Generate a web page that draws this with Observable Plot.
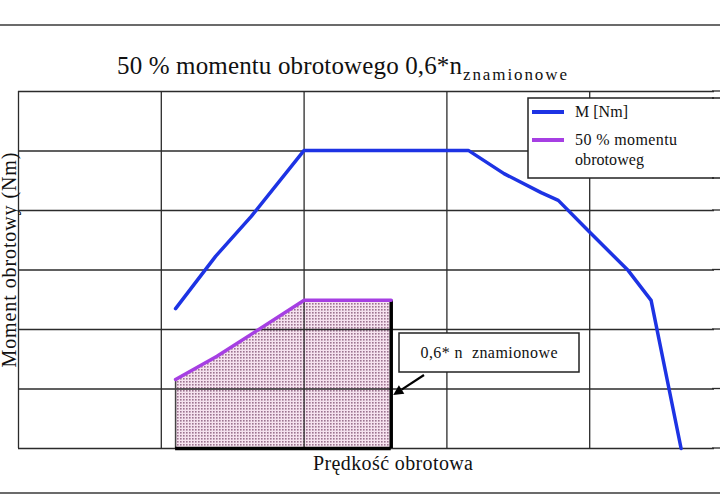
<!DOCTYPE html>
<html><head><meta charset="utf-8">
<script src="https://cdn.jsdelivr.net/npm/d3@7"></script>
<script src="https://cdn.jsdelivr.net/npm/@observablehq/plot@0.6"></script>
<style>
html,body{margin:0;background:#fff;overflow:hidden}
#chart{position:relative;width:720px;height:500px;overflow:hidden}
#chart svg{display:block;max-width:none !important}
</style>
</head><body><div id="chart"></div>
<script>
// Full torque curve M [Nm] vs rotational speed (grid units)
const speedM  = [1.10, 1.38, 1.63, 2.00, 3.15, 3.40, 3.66, 3.78, 3.99, 4.27, 4.43, 4.64];
const torqueM = [2.35, 3.23, 3.90, 5.01, 5.01, 4.62, 4.30, 4.17, 3.66, 2.99, 2.49, 0.00];
// 50 % torque curve up to 0.6 * n rated
const speedHalf  = [1.10, 1.39, 2.00, 2.61];
const torqueHalf = [1.16, 1.55, 2.49, 2.49];
const nRated = 2.61;
const gridX = [0, 1, 2, 3, 4];
const gridY = [0, 1, 2, 3, 4, 5, 6];
const seriesNames = ["M [Nm]", "50 % momentu", "obrotoweg"];
const titleMain = "50 % momentu obrotowego 0,6*n";
const titleSub = "znamionowe";
const xLabel = "Prędkość obrotowa";
const yLabel = "Moment obrotowy (Nm)";
const noteLabel = "0,6* n  znamionowe";

const mData = speedM.map((s, i) => ({speed: s, torque: torqueM[i]}));
const halfData = speedHalf.map((s, i) => ({speed: s, torque: torqueHalf[i]}));
const rated = [{speed: nRated, torque: torqueHalf[torqueHalf.length - 1]}];

const BLUE = "#1d33e4", PURPLE = "#a63fe3", GRID = "#2b2b2b";
const FONT = "'Liberation Serif','DejaVu Serif',serif";

const plot = Plot.plot({
  width: 720, height: 500,
  marginTop: 91, marginBottom: 52, marginLeft: 18, marginRight: 0,
  x: {domain: [0, 702 / 142.8], axis: null},
  y: {domain: [0, 6], axis: null},
  style: {background: "#fff"},
  marks: [
    Plot.areaY(halfData, {x: "speed", y: "torque", fill: "#f6e2ef", className: "dotted-area"}),
    Plot.ruleX(gridX, {x: d => d, stroke: GRID, strokeWidth: 1.3}),
    Plot.ruleY(gridY, {y: d => d, stroke: GRID, strokeWidth: 1.3}),
    Plot.ruleX(halfData.slice(0, 1), {x: "speed", y1: 0, y2: "torque", stroke: "#444", strokeWidth: 1.5}),
    Plot.ruleX(rated, {x: "speed", y1: 0, y2: "torque", stroke: "#000", strokeWidth: 3.5}),
    Plot.ruleY([0], {x1: speedHalf[0], x2: nRated, stroke: "#000", strokeWidth: 3.5}),
    Plot.line(halfData, {x: "speed", y: "torque", stroke: PURPLE, strokeWidth: 3.5}),
    Plot.line(mData, {x: "speed", y: "torque", stroke: BLUE, strokeWidth: 3.5})
  ]
});

const svg = d3.select(plot);
const defs = svg.append("defs");
const pat = defs.append("pattern").attr("id", "dots").attr("patternUnits", "userSpaceOnUse")
  .attr("width", 3).attr("height", 3);
pat.append("rect").attr("width", 3).attr("height", 3).attr("fill", "#f6e2ef");
pat.append("rect").attr("width", 1.6).attr("height", 1.6).attr("fill", "#9c7490");
svg.selectAll(".dotted-area path").attr("fill", "url(#dots)");

function txt(parent, x, y, s, size, len, anchor = "start") {
  const e = parent.append("text").attr("x", x).attr("y", y).attr("font-family", FONT)
    .attr("font-size", size).attr("fill", "#111").attr("text-anchor", anchor).text(s);
  if (len) e.attr("textLength", len).attr("lengthAdjust", "spacing");
  return e;
}

// outer rules
[25, 493].forEach(yy => svg.append("line").attr("x1", 0).attr("x2", 720).attr("y1", yy).attr("y2", yy)
  .attr("stroke", "#3a3a3a").attr("stroke-width", 1.6));

// title
txt(svg, 117, 74, titleMain, 25, 345);
txt(svg, 463, 80, titleSub, 17, 104);

// axis labels
txt(svg, 393, 470, xLabel, 20, 160, "middle");
txt(svg, 0, 0, yLabel, 20, 215, "middle").attr("x", null).attr("y", null)
  .attr("transform", "translate(16,260) rotate(-90)");

// legend
const lg = svg.append("g");
lg.append("rect").attr("x", 528).attr("y", 98).attr("width", 200).attr("height", 80)
  .attr("fill", "#fff").attr("stroke", "#222").attr("stroke-width", 1.5);
lg.append("line").attr("x1", 532).attr("x2", 564).attr("y1", 112).attr("y2", 112)
  .attr("stroke", BLUE).attr("stroke-width", 4);
lg.append("line").attr("x1", 532).attr("x2", 564).attr("y1", 140).attr("y2", 140)
  .attr("stroke", PURPLE).attr("stroke-width", 4);
txt(lg, 575, 117, seriesNames[0], 16, 53);
txt(lg, 575, 145, seriesNames[1], 16, 102);
txt(lg, 575, 165, seriesNames[2], 16, 69);

// annotation box + arrow
const xs = plot.scale("x"), ys = plot.scale("y");
const tipX = xs.apply(nRated) + 2.5, tipY = 395;
svg.append("rect").attr("x", 399).attr("y", 333).attr("width", 180).attr("height", 39)
  .attr("fill", "#fff").attr("stroke", "#222").attr("stroke-width", 1.5);
txt(svg, 489, 358, noteLabel, 16, 137, "middle");
const sx = 424, sy = 375;
const ang = Math.atan2(tipY - sy, tipX - sx);
const hl = 10, hw = 5;
const bx = tipX - hl * Math.cos(ang), by = tipY - hl * Math.sin(ang);
svg.append("line").attr("x1", sx).attr("y1", sy).attr("x2", bx).attr("y2", by)
  .attr("stroke", "#000").attr("stroke-width", 2.2);
svg.append("path").attr("fill", "#000").attr("d",
  `M${tipX},${tipY}L${bx + hw * Math.sin(ang)},${by - hw * Math.cos(ang)}L${bx - hw * Math.sin(ang)},${by + hw * Math.cos(ang)}Z`);

// clean right edge: white strip, then restore the ends of the horizontal lines
svg.append("rect").attr("x", 714).attr("y", 88).attr("width", 8).attr("height", 364).attr("fill", "#fff");
gridY.filter(v => v !== 5).forEach(v => svg.append("line").attr("x1", 712).attr("x2", 722)
  .attr("y1", ys.apply(v)).attr("y2", ys.apply(v)).attr("stroke", GRID).attr("stroke-width", 1.3));
[98, 178].forEach(yy => svg.append("line").attr("x1", 712).attr("x2", 722)
  .attr("y1", yy).attr("y2", yy).attr("stroke", "#222").attr("stroke-width", 1.5));

document.getElementById("chart").append(plot);
</script>
</body></html>
